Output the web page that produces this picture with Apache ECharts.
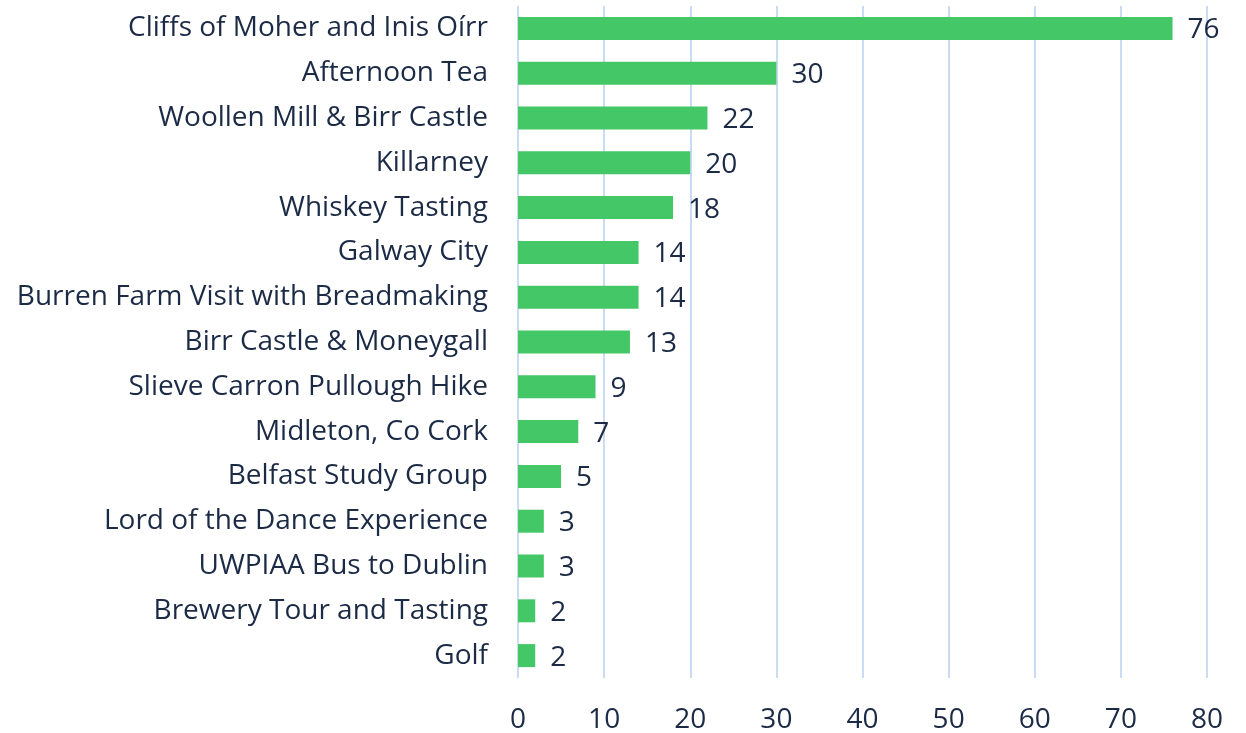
<!DOCTYPE html>
<html><head><meta charset="utf-8">
<script src="https://cdn.jsdelivr.net/npm/echarts@6/dist/echarts.min.js"></script>
<style>html,body{margin:0;padding:0;background:#fff}#c{width:1246px;height:733px}</style>
</head><body><div id="c"></div>
<script>
const categories = ["Cliffs of Moher and Inis Oírr","Afternoon Tea","Woollen Mill & Birr Castle","Killarney","Whiskey Tasting","Galway City","Burren Farm Visit with Breadmaking","Birr Castle & Moneygall","Slieve Carron Pullough Hike","Midleton, Co Cork","Belfast Study Group","Lord of the Dance Experience","UWPIAA Bus to Dublin","Brewery Tour and Tasting","Golf"];
const values = [76,30,22,20,18,14,14,13,9,7,5,3,3,2,2];
const xTicks = [0,10,20,30,40,50,60,70,80];

const textColor = '#1b2a45';
const font = 'Open Sans';
const chart = echarts.init(document.getElementById('c'));
chart.setOption({
  animation:false,
  grid:{left:518,right:39,top:6,bottom:55,containLabel:false,outerBoundsMode:'none'},
  xAxis:{type:'value',min:xTicks[0],max:xTicks[xTicks.length-1],interval:10,
    axisLine:{show:false},axisTick:{show:false},
    splitLine:{show:true,lineStyle:{color:'#cadcf2',width:2}},
    axisLabel:{color:textColor,fontFamily:font,fontSize:28,margin:28}},
  yAxis:{type:'category',data:categories.slice().reverse(),
    axisLine:{show:false},axisTick:{show:false},
    axisLabel:{color:textColor,fontFamily:font,fontSize:28,margin:30,padding:[4,0,0,0]}},
  series:[{type:'bar',data:values.slice().reverse(),barWidth:23,
    itemStyle:{color:'#44c767'},
    label:{show:true,position:'right',distance:15,offset:[0,2],color:textColor,fontFamily:font,fontSize:28}}]
});
</script></body></html>
